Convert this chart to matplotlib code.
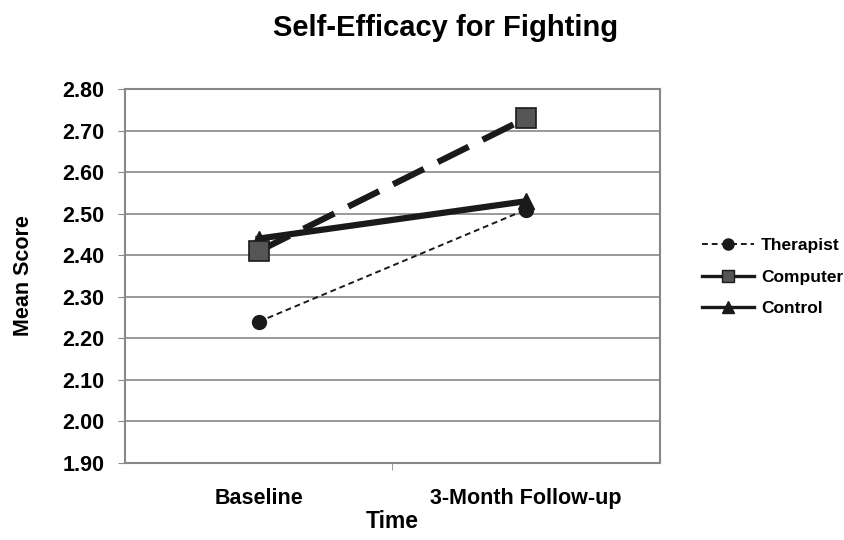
import matplotlib.pyplot as plt
from matplotlib.lines import Line2D

plt.rcParams['font.family'] = ['Liberation Sans', 'DejaVu Sans']
plt.rcParams['font.weight'] = 'bold'

times = ['Baseline', '3-Month Follow-up']
therapist = [2.24, 2.51]
computer = [2.41, 2.73]
control = [2.44, 2.53]
yticks = [1.9, 2.0, 2.1, 2.2, 2.3, 2.4, 2.5, 2.6, 2.7, 2.8]

fig = plt.figure(figsize=(8.45, 5.4), dpi=100)
ax = fig.add_axes([125 / 845, 1 - 463 / 540, 535 / 845, 374 / 540])
x = [0, 1]

ax.plot(x, therapist, color='#1a1a1a', lw=1.4, ls=(0, (3, 2)),
        marker='o', ms=10, mfc='#1a1a1a', mec='#1a1a1a', zorder=3)
ax.plot(x, control, color='#1a1a1a', lw=4.5, ls='-',
        marker='^', ms=12, mfc='#1a1a1a', mec='#1a1a1a', zorder=4)
ax.plot(x, computer, color='#1a1a1a', lw=4.5, ls=(0, (5.5, 2.5)),
        marker='s', ms=15, mfc='#555555', mec='#1a1a1a', mew=1.2, zorder=5)

ax.set_xlim(-0.5, 1.5)
ax.set_ylim(1.9, 2.8)
ax.set_yticks(yticks)
ax.set_yticklabels(['%.2f' % v for v in yticks])
ax.set_xticks(x)
ax.set_xticklabels(times)
ax.set_xticks([0.5], minor=True)
ax.tick_params(axis='x', which='major', labelsize=15.5, length=0, pad=18)
ax.tick_params(axis='x', which='minor', length=5, color='#888888')
ax.tick_params(axis='y', labelsize=15.5, length=5, pad=10, direction='out', color='#888888')
ax.grid(axis='y', color='#888888', lw=1.2)
ax.set_axisbelow(True)
for s in ax.spines.values():
    s.set_color('#888888')
    s.set_linewidth(1.5)

ax.set_xlabel('Time', fontsize=16.5, fontweight='bold', labelpad=1)
ax.set_ylabel('Mean Score', fontsize=15.5, fontweight='bold', labelpad=20)
fig.text(446 / 845, 1 - 28 / 540, 'Self-Efficacy for Fighting', fontsize=21,
         fontweight='bold', ha='center', va='center')

handles = [
    Line2D([], [], color='#1a1a1a', lw=1.4, ls=(0, (3, 2)), marker='o', ms=8),
    Line2D([], [], color='#1a1a1a', lw=2.4, marker='s', ms=8, mfc='#555555', mec='#1a1a1a'),
    Line2D([], [], color='#1a1a1a', lw=2.4, marker='^', ms=8),
]
fig.legend(handles, ['Therapist', 'Computer', 'Control'], loc='center left',
           bbox_to_anchor=(702 / 845, 1 - 277 / 540), frameon=False, fontsize=12.5,
           handlelength=3.0, labelspacing=0.92, handletextpad=0.4,
           borderaxespad=0, borderpad=0)

fig.savefig('out.png', dpi=100)
